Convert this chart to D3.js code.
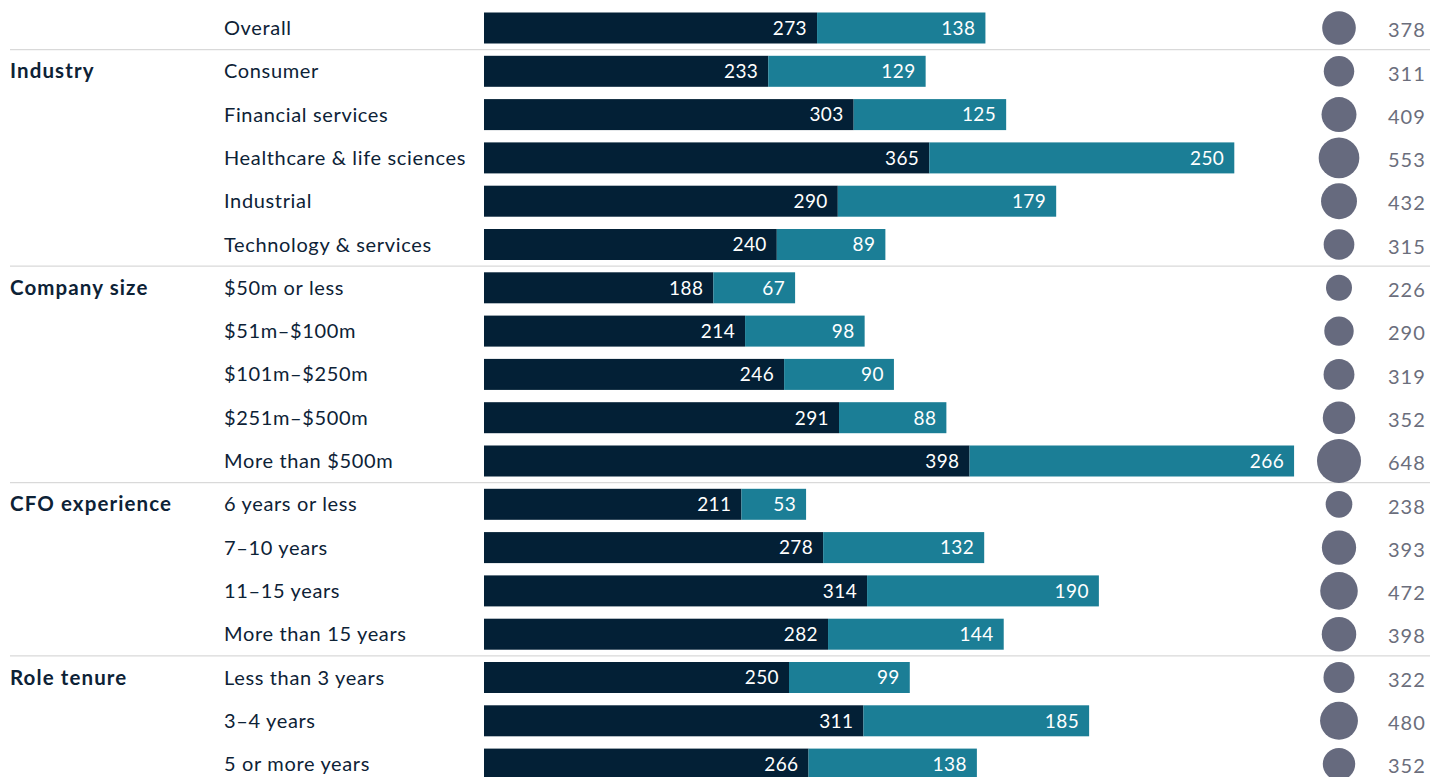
<!DOCTYPE html>
<html>
<head>
<meta charset="utf-8">
<script src="https://cdn.jsdelivr.net/npm/d3@7"></script>
<style>
  html, body { margin: 0; padding: 0; background: #ffffff; }
  svg { display: block; font-family: Lato, "Open Sans", sans-serif; }
</style>
</head>
<body>
<svg id="chart" width="1430" height="777"></svg>
<script>
// Row labels, their group headings, and the values for each row
const rowLabels = [
  "Overall",
  "Consumer", "Financial services", "Healthcare & life sciences", "Industrial", "Technology & services",
  "$50m or less", "$51m–$100m", "$101m–$250m", "$251m–$500m", "More than $500m",
  "6 years or less", "7–10 years", "11–15 years", "More than 15 years",
  "Less than 3 years", "3–4 years", "5 or more years"
];
const groupLabels = ["", "Industry", "", "", "", "", "Company size", "", "", "", "", "CFO experience", "", "", "", "Role tenure", "", ""];
const groupStarts = [1, 6, 11, 15];
const baseValues  = [273, 233, 303, 365, 290, 240, 188, 214, 246, 291, 398, 211, 278, 314, 282, 250, 311, 266];
const extraValues = [138, 129, 125, 250, 179, 89, 67, 98, 90, 88, 266, 53, 132, 190, 144, 99, 185, 138];
const totalValues = [378, 311, 409, 553, 432, 315, 226, 290, 319, 352, 648, 238, 393, 472, 398, 322, 480, 352];

const colors = { base: "#032036", extra: "#1b7e96", dot: "#666a7e", text: "#0d2236", total: "#6b6e7c", rule: "#d9d9d9" };

const svg = d3.select("#chart");
const rows = rowLabels.map((label, i) => ({
  i, label, group: groupLabels[i], base: baseValues[i], extra: extraValues[i], total: totalValues[i]
}));

const step = 43.3;
const y = d3.scaleBand()
  .domain(d3.range(rows.length))
  .range([28 - step / 2, 28 - step / 2 + rows.length * step])
  .paddingInner(0.284)
  .paddingOuter(0.142);

const x = d3.scaleLinear().domain([0, 100]).range([484, 484 + 122]);
const r = d3.scaleSqrt().domain([0, 648]).range([0, 22]);

const cy = i => y(i) + y.bandwidth() / 2;

// Separators between groups
svg.append("g").selectAll("line")
  .data(groupStarts)
  .join("line")
  .attr("x1", 10).attr("x2", 1430)
  .attr("y1", d => cy(d) - step / 2)
  .attr("y2", d => cy(d) - step / 2)
  .attr("stroke", colors.rule).attr("stroke-width", 1.2);

// Group headings
svg.append("g").selectAll("text")
  .data(rows.filter(d => d.group))
  .join("text")
  .attr("x", 10).attr("y", d => cy(d.i)).attr("dy", "0.35em")
  .attr("font-size", 20.5).attr("font-weight", 700).attr("letter-spacing", 1.1)
  .attr("fill", colors.text)
  .text(d => d.group);

// Row labels
svg.append("g").selectAll("text")
  .data(rows)
  .join("text")
  .attr("x", 224).attr("y", d => cy(d.i)).attr("dy", "0.35em")
  .attr("font-size", 20).attr("letter-spacing", 0.65).attr("fill", colors.text)
  .text(d => d.label);

// Stacked bars
const bars = svg.append("g");
bars.selectAll("rect.base")
  .data(rows).join("rect").attr("class", "base")
  .attr("x", x(0)).attr("y", d => y(d.i))
  .attr("width", d => x(d.base) - x(0)).attr("height", y.bandwidth())
  .attr("fill", colors.base);
bars.selectAll("rect.extra")
  .data(rows).join("rect").attr("class", "extra")
  .attr("x", d => x(d.base)).attr("y", d => y(d.i))
  .attr("width", d => x(d.base + d.extra) - x(d.base)).attr("height", y.bandwidth())
  .attr("fill", colors.extra);

// Segment values
bars.selectAll("text.baseLabel")
  .data(rows).join("text").attr("class", "baseLabel")
  .attr("x", d => x(d.base) - 10).attr("y", d => cy(d.i)).attr("dy", "0.36em")
  .attr("text-anchor", "end").attr("font-size", 19).attr("letter-spacing", 0.4).attr("fill", "#ffffff")
  .text(d => d.base);
bars.selectAll("text.extraLabel")
  .data(rows).join("text").attr("class", "extraLabel")
  .attr("x", d => x(d.base + d.extra) - 10).attr("y", d => cy(d.i)).attr("dy", "0.36em")
  .attr("text-anchor", "end").attr("font-size", 19).attr("letter-spacing", 0.4).attr("fill", "#ffffff")
  .text(d => d.extra);

// Total dots and values
svg.append("g").selectAll("circle")
  .data(rows).join("circle")
  .attr("cx", 1339).attr("cy", d => cy(d.i))
  .attr("r", d => r(d.total))
  .attr("fill", colors.dot);
svg.append("g").selectAll("text")
  .data(rows).join("text")
  .attr("x", 1388).attr("y", d => cy(d.i) + 2).attr("dy", "0.36em")
  .attr("font-size", 20).attr("letter-spacing", 1).attr("fill", colors.total)
  .text(d => d.total);
</script>
</body>
</html>
